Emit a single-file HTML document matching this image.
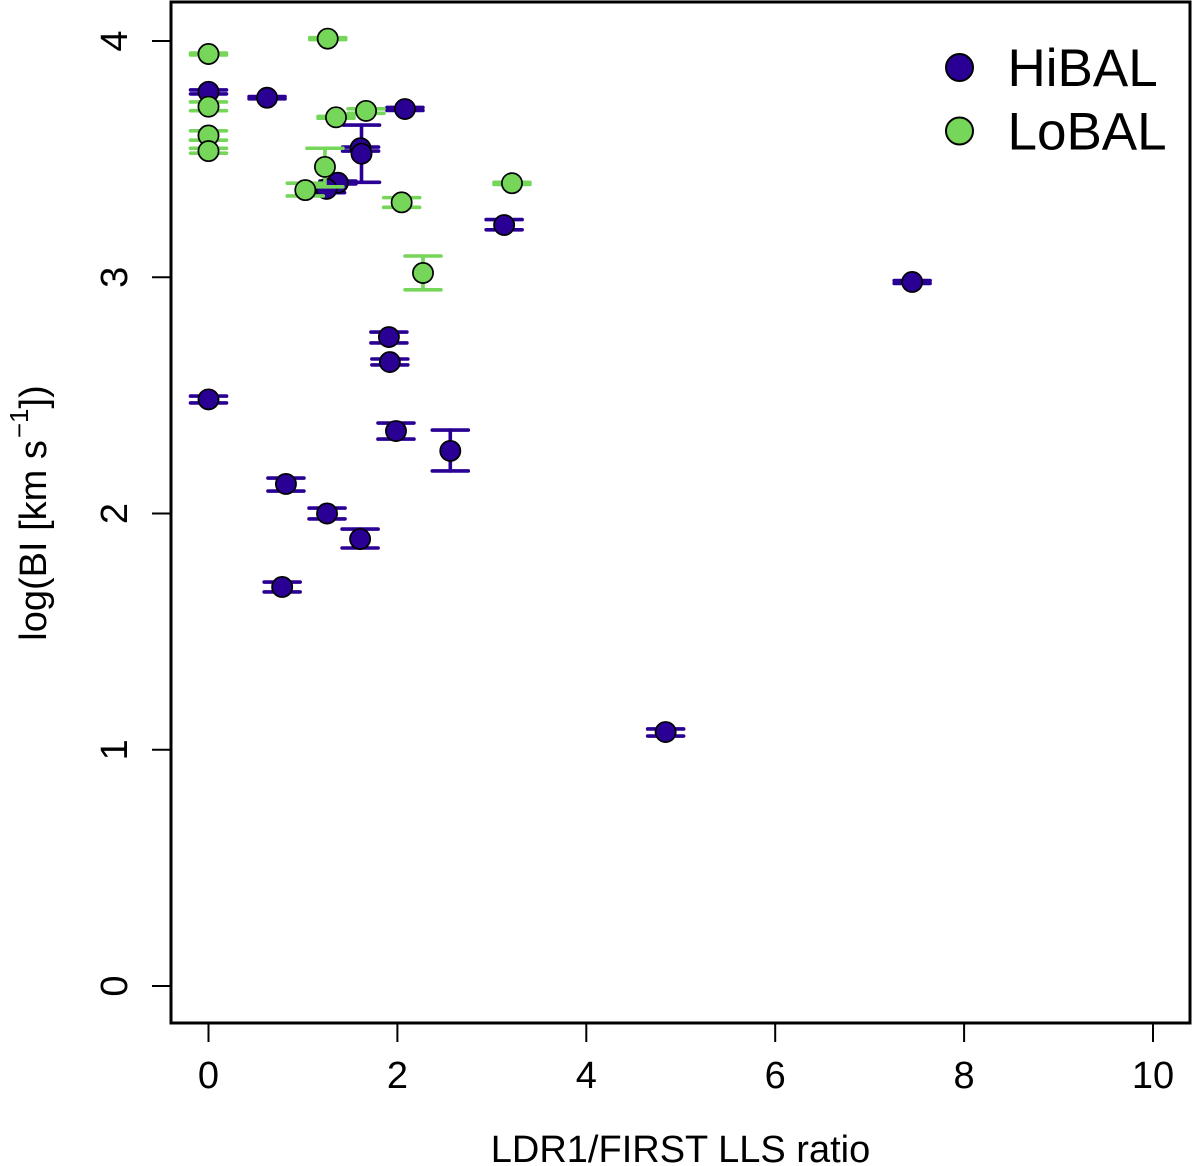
<!DOCTYPE html>
<html lang="en">
<head>
<meta charset="utf-8">
<title>LDR1/FIRST LLS ratio vs log(BI)</title>
<style>
html,body{margin:0;padding:0;background:#fff;width:1200px;height:1166px;overflow:hidden}
svg{display:block}
text{font-family:"Liberation Sans",Arial,sans-serif;fill:#000}
</style>
</head>
<body>
<svg id="chart" xmlns="http://www.w3.org/2000/svg" width="1200" height="1166" viewBox="0 0 1200 1166">
  <rect x="0" y="0" width="1200" height="1166" fill="#fff"/>
  <g id="ticks"></g>
  <g id="series-hibal"></g>
  <g id="series-lobal"></g>
  <rect x="171" y="2" width="1019" height="1021" fill="none" stroke="#000" stroke-width="3"/>
  <text x="680.5" y="1162" font-size="38" text-anchor="middle">LDR1/FIRST LLS ratio</text>
  <text transform="translate(46,513) rotate(-90)" font-size="38" text-anchor="middle">log(BI [km s<tspan font-size="26" dx="2" dy="-18">−1</tspan><tspan dy="18">])</tspan></text>
  <g>
    <circle cx="959.5" cy="67.5" r="13.5" fill="#2a0094" stroke="#000" stroke-width="2"/>
    <text x="1007.5" y="86" font-size="53">HiBAL</text>
    <circle cx="959.5" cy="131" r="13.5" fill="#76d65a" stroke="#000" stroke-width="2"/>
    <text x="1007.5" y="149.5" font-size="53">LoBAL</text>
  </g>
</svg>
<script>
const xTickLabels = [0, 2, 4, 6, 8, 10];
const yTickLabels = [0, 1, 2, 3, 4];

const hibalX  = [0.00, 0.62, 2.08, 1.61, 1.62, 1.37, 1.25, 3.13, 7.45, 1.91, 1.92, 0.00, 1.985, 2.56, 0.82, 1.255, 1.605, 0.78, 4.84];
const hibalY  = [3.785, 3.76, 3.712, 3.546, 3.523, 3.40, 3.374, 3.221, 2.98, 2.747, 2.641, 2.483, 2.349, 2.265, 2.125, 2.00, 1.892, 1.689, 1.075];
const hibalLo = [3.776, 3.755, 3.706, 3.534, 3.402, 3.395, 3.358, 3.201, 2.974, 2.722, 2.629, 2.468, 2.315, 2.18, 2.095, 1.977, 1.854, 1.668, 1.058];
const hibalHi = [3.793, 3.765, 3.719, 3.551, 3.644, 3.407, 3.395, 3.244, 2.986, 2.768, 2.654, 2.497, 2.383, 2.353, 2.15, 2.023, 1.934, 1.71, 1.088];

const lobalX  = [1.262, 0.00, 0.00, 0.00, 0.00, 1.668, 1.35, 1.233, 1.025, 2.045, 3.213, 2.271];
const lobalY  = [4.01, 3.945, 3.722, 3.60, 3.534, 3.704, 3.677, 3.467, 3.369, 3.317, 3.398, 3.018];
const lobalLo = [4.006, 3.941, 3.705, 3.58, 3.525, 3.694, 3.673, 3.383, 3.344, 3.296, 3.393, 2.947];
const lobalHi = [4.014, 3.949, 3.742, 3.62, 3.546, 3.713, 3.681, 3.546, 3.398, 3.337, 3.402, 3.09];

const SVG_NS = 'http://www.w3.org/2000/svg';
const xScale = v => 208.5 + v * 94.45;
const yScale = v => 986 - v * 236.25;

function make(tag, parent, attrs) {
  const el = document.createElementNS(SVG_NS, tag);
  for (const k in attrs) el.setAttribute(k, attrs[k]);
  parent.appendChild(el);
  return el;
}

const tickGroup = document.getElementById('ticks');
xTickLabels.forEach(t => {
  const line = make('line', tickGroup, {x1: xScale(t), x2: xScale(t), y1: 1023, y2: 1042, stroke: '#000', 'stroke-width': 2});
  
  
  const label = make('text', tickGroup, {x: xScale(t), y: 1088, 'font-size': 38, 'text-anchor': 'middle'});
  label.textContent = t;
  
  
});
yTickLabels.forEach(t => {
  const line = make('line', tickGroup, {x1: 152, x2: 171, y1: yScale(t), y2: yScale(t), stroke: '#000', 'stroke-width': 2});
  
  
  const label = make('text', tickGroup, {transform: 'translate(127,' + yScale(t) + ') rotate(-90)', 'font-size': 38, 'text-anchor': 'middle'});
  label.textContent = t;
  
  
});

function drawSeries(groupId, xs, ys, los, his, color, seriesName) {
  const group = document.getElementById(groupId);
  xs.forEach((xv, i) => {
    const cx = xScale(xv);
    const stroke = {stroke: color, 'stroke-width': 3.6, 'stroke-linecap': 'round'};
    const stem = make('line', group, {x1: cx, x2: cx, y1: yScale(los[i]), y2: yScale(his[i]), ...stroke});
    
    
    const capLo = make('line', group, {x1: cx - 18, x2: cx + 18, y1: yScale(los[i]), y2: yScale(los[i]), ...stroke});
    
    
    const capHi = make('line', group, {x1: cx - 18, x2: cx + 18, y1: yScale(his[i]), y2: yScale(his[i]), ...stroke});
    
    
  });
  xs.forEach((xv, i) => {
    const dot = make('circle', group, {cx: xScale(xv), cy: yScale(ys[i]), r: 10.1, fill: color, stroke: '#000', 'stroke-width': 1.7});
    
    
  });
}

drawSeries('series-hibal', hibalX, hibalY, hibalLo, hibalHi, '#2a0094', 'hibal');
drawSeries('series-lobal', lobalX, lobalY, lobalLo, lobalHi, '#76d65a', 'lobal');
</script>
</body>
</html>
